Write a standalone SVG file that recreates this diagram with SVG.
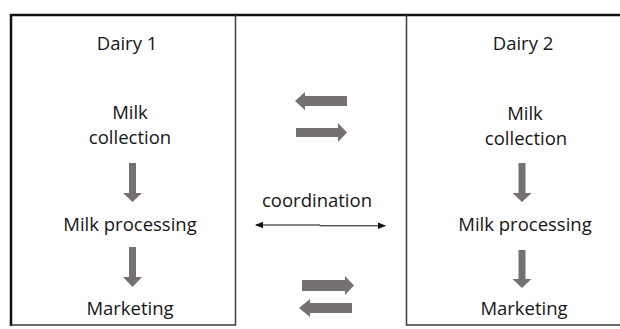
<svg xmlns="http://www.w3.org/2000/svg" width="620" height="329" viewBox="0 0 620 329">
  <style>
    .lbl { font-family: "Open Sans", "Liberation Sans", sans-serif; font-size: 18.5px; fill: #161616; text-anchor: middle; }
    .frame { fill: none; stroke: #3c3c3c; stroke-width: 1.5; }
    .rule { fill: none; stroke: #111; stroke-width: 2.5; }
    .block { fill: #767171; }
    .thin { fill: none; stroke: #111; stroke-width: 1; }
  </style>
  <defs>
    <marker id="tip" viewBox="0 0 8 8" refX="7" refY="4" markerWidth="8" markerHeight="8" markerUnits="userSpaceOnUse" orient="auto-start-reverse">
      <path d="M0,0.8 L8,4 L0,7.2 Z" fill="#111"/>
    </marker>
  </defs>
  <rect width="620" height="329" fill="#fff"/>

  <!-- top rule and left edge -->
  <line class="rule" x1="10" y1="15" x2="620" y2="15"/>
  <line class="rule" x1="11" y1="14" x2="11" y2="326"/>

  <g id="dairy1">
    <path class="frame" d="M235.5,15 V325 H11"/>
    <text class="lbl" x="127" y="50">Dairy 1</text>
    <text class="lbl" x="130" y="119">Milk</text>
    <text class="lbl" x="130" y="144">collection</text>
    <text class="lbl" x="130" y="231">Milk processing</text>
    <text class="lbl" x="130" y="315">Marketing</text>
  </g>

  <g id="dairy2">
    <path class="frame" d="M406.5,15 V325 H620"/>
    <text class="lbl" x="523" y="50">Dairy 2</text>
    <text class="lbl" x="525" y="120">Milk</text>
    <text class="lbl" x="526" y="145">collection</text>
    <text class="lbl" x="525" y="231">Milk processing</text>
    <text class="lbl" x="524" y="315">Marketing</text>
  </g>

  <g id="connectors">
    <!-- process flow inside each dairy -->
    <path class="block" d="M129,163 H136 V193 H142 L132.5,202 L123,193 H129 Z"/>
    <path class="block" d="M129,247 H136 V277 H142 L132.5,287 L123,277 H129 Z"/>
    <path class="block" d="M518.5,163 H525.5 V193 H531.5 L522,202 L512.5,193 H518.5 Z"/>
    <path class="block" d="M518.5,250 H525.5 V279 H531.5 L522,288 L512.5,279 H518.5 Z"/>
    <!-- exchanges between the dairies -->
    <path class="block" d="M347,96 V106 H305 V110 L295,101 L305,92 V96 Z"/>
    <path class="block" d="M296,128 H338 V123 L347,132.5 L338,142 V137 H296 Z"/>
    <path class="block" d="M302,280 H345 V276 L354,285.5 L345,295 V291 H302 Z"/>
    <path class="block" d="M352,303 V313 H310 V317 L299,308 L310,299 V303 Z"/>
    <!-- coordination link -->
    <text class="lbl" x="317" y="207">coordination</text>
    <path class="thin" d="M256,225 H320 V225.8 H385" marker-start="url(#tip)" marker-end="url(#tip)"/>
  </g>
</svg>
